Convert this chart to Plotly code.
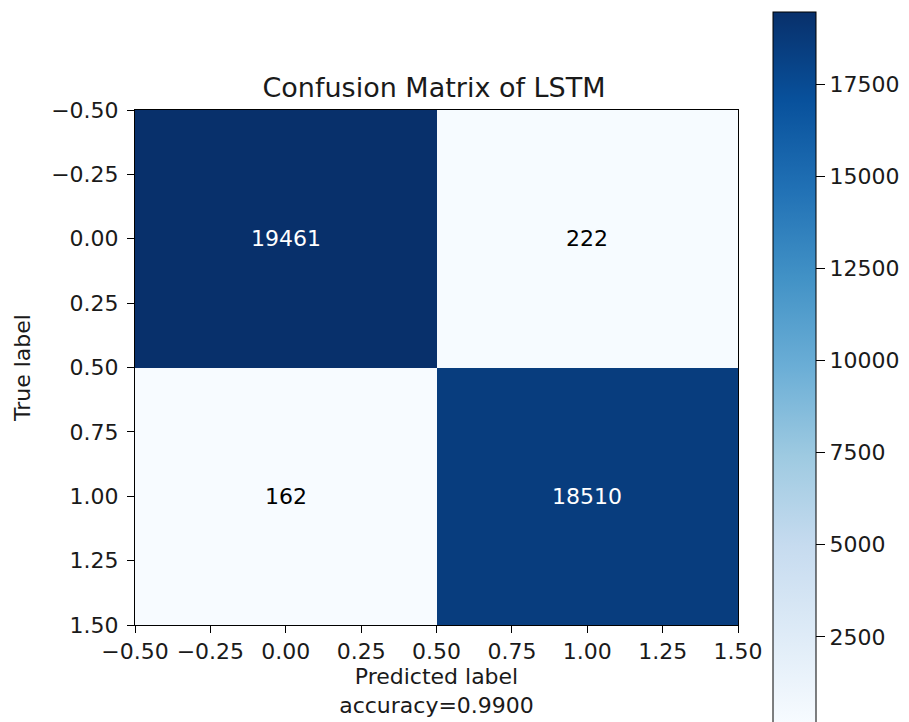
import plotly.graph_objects as go

true_labels = [0, 1]
pred_labels = [0, 1]
cm_values = [[19461, 222], [162, 18510]]
axis_tickvals = [-0.5, -0.25, 0.0, 0.25, 0.5, 0.75, 1.0, 1.25, 1.5]
axis_ticktext = ["\u22120.50", "\u22120.25", "0.00", "0.25", "0.50", "0.75", "1.00", "1.25", "1.50"]
cbar_tickvals = [2500, 5000, 7500, 10000, 12500, 15000, 17500]
cbar_ticktext = ["2500", "5000", "7500", "10000", "12500", "15000", "17500"]
title_text = "Confusion Matrix of LSTM"
accuracy_text = "accuracy=0.9900"

blues = ["#f7fbff", "#deebf7", "#c6dbef", "#9ecae1", "#6baed6",
         "#4292c6", "#2171b5", "#08519c", "#08306b"]
colorscale = [[i / (len(blues) - 1), c] for i, c in enumerate(blues)]

FONT = "DejaVu Sans"
OFF = 8  # page body margin
W, H = 909 - OFF, 722 - OFF
L, T = 135 - OFF, 110 - OFF
R = W - (738 - OFF)
B = H - (625 - OFF)
PW, PH = W - L - R, H - T - B
TXT = "#1a1a1a"

fig = go.Figure(go.Heatmap(
    z=cm_values, x=pred_labels, y=true_labels,
    colorscale=colorscale,
    zmin=min(min(r) for r in cm_values), zmax=max(max(r) for r in cm_values),
    colorbar=dict(
        thickness=43, lenmode="pixels", len=711, x=(773 - OFF - L) / PW, xanchor="left",
        y=((625 - OFF) - (367.5 - OFF)) / PH, yanchor="middle", ypad=0, xpad=0,
        outlinecolor="black", outlinewidth=1,
        tickvals=cbar_tickvals, ticktext=cbar_ticktext, ticks="outside", ticklen=9, tickcolor="black",
        tickfont=dict(family=FONT, size=22, color=TXT),
    ),
    hoverinfo="skip",
))

vmax = max(max(r) for r in cm_values)
thresh = vmax / 2
for i, row in enumerate(cm_values):
    for j, v in enumerate(row):
        fig.add_annotation(x=pred_labels[j], y=true_labels[i], text=str(v), showarrow=False,
                           font=dict(family=FONT, size=22, color="white" if v > thresh else "black"))

axis_common = dict(
    tickvals=axis_tickvals, ticktext=axis_ticktext, ticks="outside", ticklen=7,
    tickcolor="black", showline=True, linecolor="black", linewidth=1, mirror=True,
    showgrid=False, zeroline=False, tickfont=dict(family=FONT, size=22, color=TXT),
)
fig.update_xaxes(range=[-0.5, 1.5], **axis_common, automargin=False,
                 title=dict(text="Predicted label<br>" + accuracy_text,
                            font=dict(family=FONT, size=22, color=TXT), standoff=1))
fig.update_yaxes(range=[1.5, -0.5], **axis_common, ticklabelstandoff=4, automargin=False,
                 title=dict(text="True label", font=dict(family=FONT, size=22, color=TXT), standoff=14))

fig.update_layout(
    width=W, height=H, margin=dict(l=L, r=R, t=T, b=B, autoexpand=False),
    paper_bgcolor="white", plot_bgcolor="white",
    title=dict(text=title_text, x=((255 + 613) / 2 - OFF) / W, xanchor="center",
               y=1 - (88 - OFF) / H, yanchor="middle",
               font=dict(family=FONT, size=27, color=TXT)),
)
fig.write_html("out.html")
